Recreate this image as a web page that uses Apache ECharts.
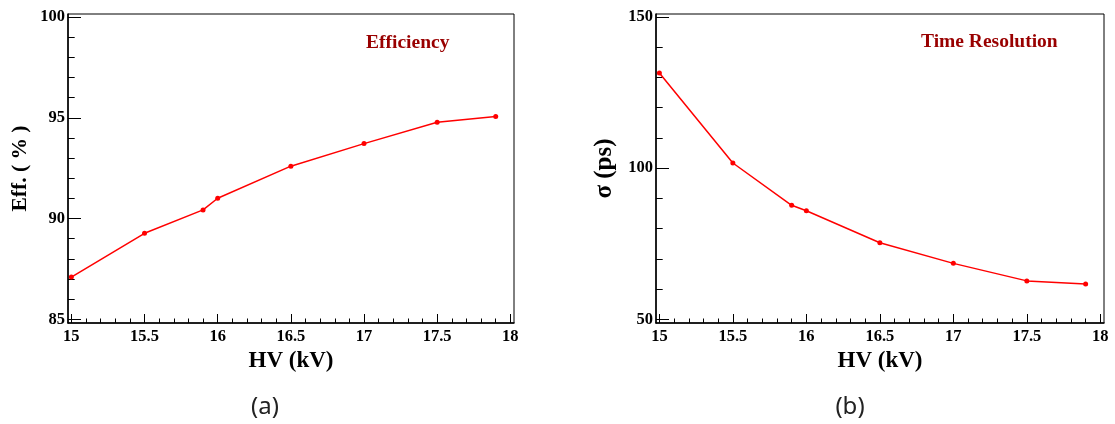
<!DOCTYPE html>
<html>
<head>
<meta charset="utf-8">
<script src="https://cdn.jsdelivr.net/npm/echarts@6/dist/echarts.min.js"></script>
<style>
html,body{margin:0;padding:0;background:#fff;}
#main{width:1115px;height:424px;}
</style>
</head>
<body>
<div id="main"></div>
<script>
// ---- data ----
const hvKV = [15, 15.5, 15.9, 16, 16.5, 17, 17.5, 17.9];
const efficiency = [87.1, 89.27, 90.43, 91.01, 92.6, 93.72, 94.78, 95.06];
const timeResolution = [131.5, 101.7, 87.7, 85.9, 75.3, 68.5, 62.7, 61.7];

const xMajorTicks = [15, 15.5, 16, 16.5, 17, 17.5, 18];
const effMajorTicks = [85, 90, 95, 100];
const sigmaMajorTicks = [50, 100, 150];

const xTitle = 'HV (kV)';
const effTitle = 'Eff. ( % )';
const sigmaTitle = 'σ (ps)';
const effLabel = 'Efficiency';
const sigmaLabel = 'Time Resolution';
const captions = ['(a)', '(b)'];

// minor tick positions (axis decoration)
function steps(a, b, s) { const r = []; for (let v = a; v <= b + 1e-9; v += s) r.push(Math.round(v * 1000) / 1000); return r; }
const xMinor = steps(15, 18, 0.1);
const effMinor = steps(85, 100, 1);
const sigmaMinor = steps(50, 150, 10);

const SERIF = '"Liberation Serif", "DejaVu Serif", serif';
const RED = '#ff0000';
const TXT = '#990000';

const chart = echarts.init(document.getElementById('main'), null, {renderer: 'canvas'});

function xAxesFor(gi) {
  return [
    {
      type: 'value', gridIndex: gi, position: 'bottom',
      min: 14.977, max: 18.025,
      axisLine: {show: true, onZero: false, lineStyle: {color: '#000', width: 1.5}},
      axisTick: {show: true, inside: true, length: 9, customValues: xMajorTicks, lineStyle: {color: '#000', width: 1}},
      axisLabel: {show: true, customValues: xMajorTicks, margin: 5, fontFamily: SERIF, fontWeight: 'bold', fontSize: 16.5, color: '#000'},
      splitLine: {show: false},
      name: xTitle, nameLocation: 'middle', nameGap: 23,
      nameTextStyle: {fontFamily: SERIF, fontWeight: 'bold', fontSize: 23, color: '#000'}
    },
    {
      type: 'value', gridIndex: gi, position: 'bottom',
      min: 14.977, max: 18.025,
      axisLine: {show: false},
      axisTick: {show: true, inside: true, length: 4.5, customValues: xMinor, lineStyle: {color: '#000', width: 1}},
      axisLabel: {show: false, customValues: xMinor},
      splitLine: {show: false}
    }
  ];
}

function yAxesFor(gi, min, max, major, minor, title, gap, titleSize) {
  return [
    {
      type: 'value', gridIndex: gi, position: 'left',
      min: min, max: max,
      axisLine: {show: true, onZero: false, lineStyle: {color: '#000', width: 1.5}},
      axisTick: {show: true, inside: true, length: 13, customValues: major, lineStyle: {color: '#000', width: 1}},
      axisLabel: {show: true, customValues: major, margin: 3, fontFamily: SERIF, fontWeight: 'bold', fontSize: 16.5, color: '#000'},
      splitLine: {show: false},
      name: title, nameLocation: 'middle', nameGap: gap, nameRotate: 90,
      nameTextStyle: {fontFamily: SERIF, fontWeight: 'bold', fontSize: titleSize, color: '#000'}
    },
    {
      type: 'value', gridIndex: gi, position: 'left',
      min: min, max: max,
      axisLine: {show: false},
      axisTick: {show: true, inside: true, length: 6.7, customValues: minor, lineStyle: {color: '#000', width: 1}},
      axisLabel: {show: false, customValues: minor},
      splitLine: {show: false}
    }
  ];
}

const option = {
  animation: false,
  backgroundColor: '#fff',
  grid: [
    {left: 68, top: 14, width: 446, height: 309, show: true, borderColor: '#000', borderWidth: 1, backgroundColor: 'transparent'},
    {left: 656, top: 14, width: 448, height: 309, show: true, borderColor: '#000', borderWidth: 1, backgroundColor: 'transparent'}
  ],
  xAxis: xAxesFor(0).concat(xAxesFor(1)),
  yAxis: yAxesFor(0, 84.82, 100.15, effMajorTicks, effMinor, effTitle, 37, 21.5)
    .concat(yAxesFor(1, 48.77, 150.99, sigmaMajorTicks, sigmaMinor, sigmaTitle, 39, 25)),
  title: [
    {text: effLabel, left: 366, top: 33, padding: 0, textStyle: {fontFamily: SERIF, fontWeight: 'bold', fontSize: 19.5, color: TXT}},
    {text: sigmaLabel, left: 921, top: 32, padding: 0, textStyle: {fontFamily: SERIF, fontWeight: 'bold', fontSize: 19.5, color: TXT}}
  ],
  graphic: [
    {type: 'text', x: 265, y: 407, style: {text: captions[0], textAlign: 'center', textVerticalAlign: 'middle', font: '24px "Noto Sans", sans-serif', fill: '#222'}},
    {type: 'text', x: 850, y: 407, style: {text: captions[1], textAlign: 'center', textVerticalAlign: 'middle', font: '24px "Noto Sans", sans-serif', fill: '#222'}}
  ],
  series: [
    {
      type: 'line', xAxisIndex: 0, yAxisIndex: 0,
      data: hvKV.map((x, i) => [x, efficiency[i]]),
      symbol: 'circle', symbolSize: 5, showSymbol: true,
      lineStyle: {color: RED, width: 1.5}, itemStyle: {color: RED}, clip: false
    },
    {
      type: 'line', xAxisIndex: 2, yAxisIndex: 2,
      data: hvKV.map((x, i) => [x, timeResolution[i]]),
      symbol: 'circle', symbolSize: 5, showSymbol: true,
      lineStyle: {color: RED, width: 1.5}, itemStyle: {color: RED}, clip: false
    }
  ]
};
chart.setOption(option);
</script>
</body>
</html>
